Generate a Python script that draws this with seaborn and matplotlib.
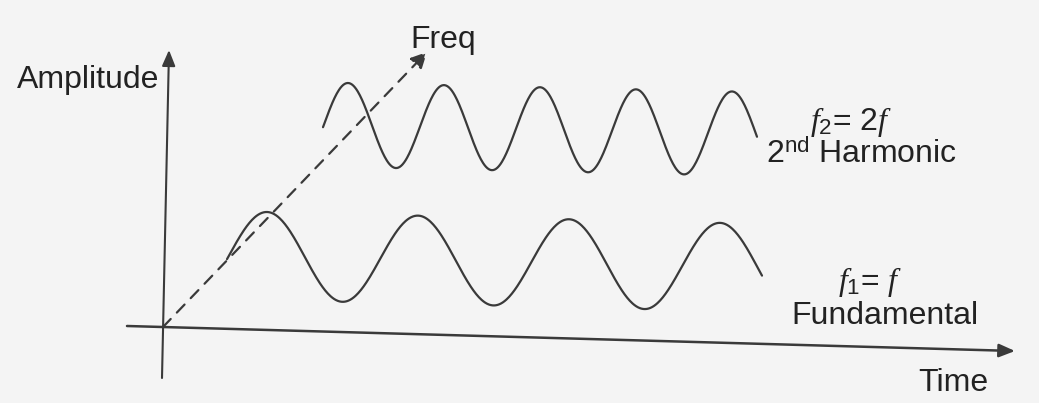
import numpy as np
import pandas as pd
import matplotlib
matplotlib.use("Agg")
import matplotlib.pyplot as plt
import seaborn as sns

sns.set_theme(style="white")
plt.rcParams['font.family'] = ['Liberation Sans', 'DejaVu Sans']
plt.rcParams['mathtext.fontset'] = 'custom'
plt.rcParams['mathtext.it'] = 'Liberation Serif:italic'
plt.rcParams['mathtext.rm'] = 'Liberation Sans'

# ---- data (in picture pixel units) ----
wave_names = ["Fundamental", "2nd Harmonic"]
wave_start = [227, 323]
wave_end = [762, 757]
wave_peak = [267, 348]
wave_period = [151, 96]
wave_amp = [44, 42]
wave_mid = [256, 125]
wave_tilt = [0.024, 0.022]

axis_origin = [163, 327]
time_axis_tail = [127, 326]
time_axis_tip = [1015, 351]
amp_axis_tail = [162, 378]
amp_axis_tip = [169, 50]
freq_axis_tip = [427, 52]

labels = ["Amplitude", "Freq", "Time"]
label_x = [17, 410, 918]
label_y = [80, 40, 383]

ink = "#3a3a3a"
txt = "#222222"

rows = []
for n, s, e, p, T, A, m, t in zip(wave_names, wave_start, wave_end, wave_peak,
                                   wave_period, wave_amp, wave_mid, wave_tilt):
    x = np.linspace(s, e, 600)
    y = m + t * (x - p) - A * np.cos(2 * np.pi * (x - p) / T)
    rows.append(pd.DataFrame({"x": x, "y": y, "wave": n}))
df = pd.concat(rows, ignore_index=True)

bg = "#f4f4f4"
fig = plt.figure(figsize=(10.39, 4.03), dpi=100, facecolor=bg)
ax = fig.add_axes([0, 0, 1, 1])
ax.set_facecolor(bg)

sns.lineplot(data=df, x="x", y="y", units="wave", estimator=None, sort=False,
             color=ink, linewidth=1.6, ax=ax, legend=False)

ax.set_xlim(0, 1039)
ax.set_ylim(403, 0)
ax.axis("off")

# axes arrows
ax.annotate("", xy=time_axis_tip, xytext=time_axis_tail,
            arrowprops=dict(arrowstyle="-|>,head_length=0.6,head_width=0.25",
                            color=ink, lw=1.8,
                            mutation_scale=16, shrinkA=0, shrinkB=0))
ax.annotate("", xy=amp_axis_tip, xytext=amp_axis_tail,
            arrowprops=dict(arrowstyle="-|>,head_length=0.6,head_width=0.25",
                            color=ink, lw=1.5,
                            mutation_scale=16, shrinkA=0, shrinkB=0))
ax.annotate("", xy=freq_axis_tip, xytext=axis_origin,
            arrowprops=dict(arrowstyle="-|>,head_length=0.6,head_width=0.3",
                            color=ink, lw=1.6,
                            linestyle=(0, (5, 4)),
                            mutation_scale=16, shrinkA=0, shrinkB=0))

fs = 23
for t, x, y in zip(labels, label_x, label_y):
    ax.text(x, y, t, fontsize=fs, color=txt, ha="left", va="center")

ax.text(810, 122, r"$f_{\mathrm{2}}$= 2$f$", fontsize=fs, color=txt,
        ha="left", va="center")
ax.text(766, 155, r"2$^{\mathrm{nd}}$ Harmonic", fontsize=fs, color=txt,
        ha="left", va="center")
ax.text(838, 282, r"$f_{\mathrm{1}}$= $f$", fontsize=fs, color=txt,
        ha="left", va="center")
ax.text(791, 316, "Fundamental", fontsize=fs, color=txt,
        ha="left", va="center")

fig.savefig("out.png", dpi=100, facecolor=fig.get_facecolor())
